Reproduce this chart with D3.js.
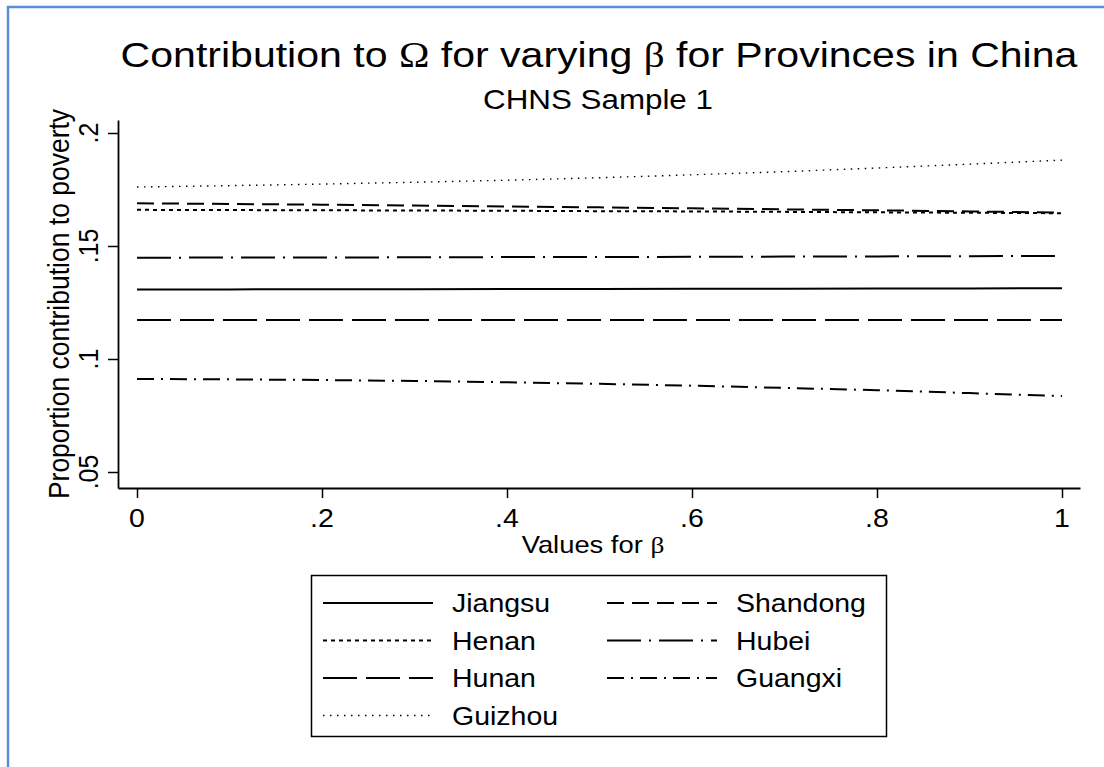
<!DOCTYPE html>
<html>
<head>
<meta charset="utf-8">
<script src="https://cdn.jsdelivr.net/npm/d3@7"></script>
<style>
  body { margin: 0; background: #fff; }
  svg { display: block; }
  text { font-family: "Liberation Sans", Arial, sans-serif; fill: #000; }
  .greek { font-family: "Liberation Serif", "DejaVu Serif", serif; }
</style>
</head>
<body>
<svg id="chart" width="1104" height="767"></svg>
<script>
// values, beta from 0 to 1
const betas    = [0, 0.1, 0.2, 0.3, 0.4, 0.5, 0.6, 0.7, 0.8, 0.9, 1];
const jiangsu  = [0.1308, 0.1308, 0.1309, 0.1309, 0.1310, 0.1310, 0.1311, 0.1311, 0.1312, 0.1312, 0.1313];
const shandong = [0.1689, 0.1686, 0.1683, 0.1679, 0.1675, 0.1671, 0.1667, 0.1662, 0.1658, 0.1653, 0.1648];
const henan    = [0.1660, 0.1659, 0.1658, 0.1657, 0.1656, 0.1654, 0.1653, 0.1651, 0.1649, 0.1647, 0.1645];
const hubei    = [0.1448, 0.1449, 0.1449, 0.1450, 0.1451, 0.1451, 0.1452, 0.1453, 0.1454, 0.1455, 0.1456];
const hunan    = [0.1173, 0.1173, 0.1173, 0.1173, 0.1173, 0.1173, 0.1173, 0.1173, 0.1173, 0.1173, 0.1173];
const guangxi  = [0.0912, 0.0910, 0.0907, 0.0903, 0.0897, 0.0890, 0.0882, 0.0872, 0.0862, 0.0849, 0.0836];
const guizhou  = [0.1761, 0.1767, 0.1774, 0.1782, 0.1791, 0.1802, 0.1815, 0.1829, 0.1845, 0.1862, 0.1880];

const provinces = ['Jiangsu', 'Shandong', 'Henan', 'Hubei', 'Hunan', 'Guangxi', 'Guizhou'];
const seriesValues = [jiangsu, shandong, henan, hubei, hunan, guangxi, guizhou];
const xTicks = [0, 0.2, 0.4, 0.6, 0.8, 1];
const yTicks = [0.05, 0.1, 0.15, 0.2];

// stata line patterns
const patterns = {
   Jiangsu:  {dash: null,            width: 2},
   Shandong: {dash: '17,8',          width: 2},
   Henan:    {dash: '4,4',           width: 2},
   Hubei:    {dash: '34,8,2,8',      width: 2},
   Hunan:    {dash: '34,9',          width: 2},
   Guangxi:  {dash: '17,7,2,7',      width: 2},
   Guizhou:  {dash: '1.5,5.5',       width: 1.4}
};

const STRETCH = 1.14;   // text in the picture is a bit wide
const plot = {left: 118, right: 1080, top: 120, bottom: 488};

const svg = d3.select('#chart');

// blue frame of the page
svg.append('path')
   .attr('d', `M8,767 L8,7 L1104,7`)
   .attr('fill', 'none')
   .attr('stroke', '#5b8fd8')
   .attr('stroke-width', 2.5);

const x = d3.scaleLinear().domain([-0.02054, 1.01946]).range([plot.left, plot.right]);
const y = d3.scaleLinear().domain([0.04292, 0.20575]).range([plot.bottom, plot.top]);

const fmt = d => d === 0 ? '0' : d === 1 ? '1' : String(d).replace(/^0/, '');

function wideText(sel, tx, ty, size, anchor, rotate) {
   return sel.append('text')
       .attr('transform', `translate(${tx},${ty}) scale(${STRETCH},1)` + (rotate ? ' rotate(-90)' : ''))
       .attr('font-size', size)
       .attr('text-anchor', anchor);
}

// x axis
const xAxis = svg.append('g')
   .attr('transform', `translate(0,${plot.bottom})`)
   .call(d3.axisBottom(x).tickValues(xTicks).tickFormat(fmt).tickSize(10).tickSizeOuter(0));
xAxis.select('.domain').attr('stroke-width', 1.8);
xAxis.selectAll('.tick line').attr('stroke-width', 1.5);
xAxis.selectAll('.tick text').remove();
xTicks.forEach(t => wideText(svg, x(t), 527, 25, 'middle').text(fmt(t)));

// y axis
const yAxis = svg.append('g')
   .attr('transform', `translate(${plot.left},0)`)
   .call(d3.axisLeft(y).tickValues(yTicks).tickFormat(fmt).tickSize(10).tickSizeOuter(0));
yAxis.select('.domain').attr('stroke-width', 1.8);
yAxis.selectAll('.tick line').attr('stroke-width', 1.5);
yAxis.selectAll('.tick text').remove();
yTicks.forEach(t => wideText(svg, 98, y(t), 25, 'middle', true).text(fmt(t)));

// series
const line = d3.line()
   .x((d, i) => x(betas[i]))
   .y(d => y(d));

provinces.forEach((name, k) => {
   svg.append('path')
       .datum(seriesValues[k])
       .attr('d', line)
       .attr('fill', 'none')
       .attr('stroke', '#000')
       .attr('stroke-width', patterns[name].width)
       .attr('stroke-dasharray', patterns[name].dash);
});

// titles
const title = wideText(svg, 599, 67, 36, 'middle');
title.append('tspan').text('Contribution to ');
title.append('tspan').attr('class', 'greek').text('Ω');
title.append('tspan').text(' for varying ');
title.append('tspan').attr('class', 'greek').text('β');
title.append('tspan').text(' for Provinces in China');

wideText(svg, 598, 109, 27.5, 'middle').text('CHNS Sample 1');

const xTitle = wideText(svg, 593, 553, 24, 'middle');
xTitle.append('tspan').text('Values for ');
xTitle.append('tspan').attr('class', 'greek').text('β');

wideText(svg, 69, 304, 26.5, 'middle', true).text('Proportion contribution to poverty');

// legend
const legend = svg.append('g');
legend.append('rect')
   .attr('x', 311.5).attr('y', 575.5)
   .attr('width', 575).attr('height', 161)
   .attr('fill', '#fff')
   .attr('stroke', '#000')
   .attr('stroke-width', 1.5);

const legendOrder = ['Jiangsu', 'Shandong', 'Henan', 'Hubei', 'Hunan', 'Guangxi', 'Guizhou'];
legendOrder.forEach((name, i) => {
   const col = i % 2, row = Math.floor(i / 2);
   const lx = 323 + col * 284, ly = 603 + row * 37.5;
   legend.append('line')
       .attr('x1', lx).attr('x2', lx + 110)
       .attr('y1', ly).attr('y2', ly)
       .attr('stroke', '#000')
       .attr('stroke-width', patterns[name].width)
       .attr('stroke-dasharray', patterns[name].dash);
   wideText(legend, lx + 129, ly + 9, 25, 'start').text(name);
});
</script>
</body>
</html>
